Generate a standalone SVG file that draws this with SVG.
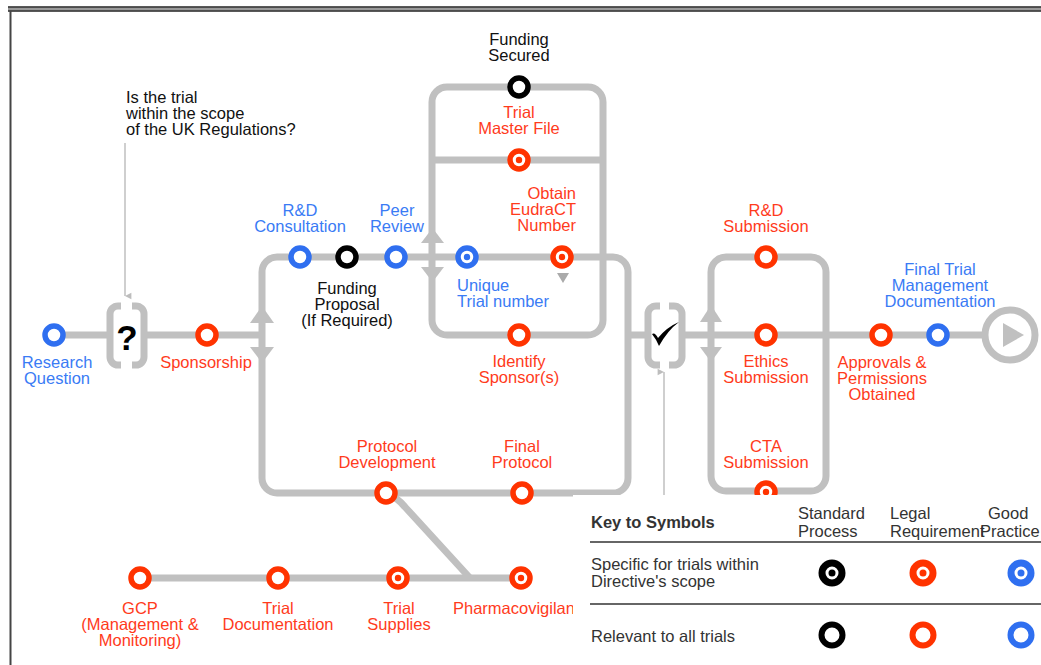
<svg xmlns="http://www.w3.org/2000/svg" width="1041" height="665" viewBox="0 0 1041 665">
<style>
.ln{fill:none;stroke:#c0c0c0;stroke-width:7;stroke-linejoin:round}
.ar{fill:#c0c0c0}
.thin{fill:none;stroke:#cfcfcf;stroke-width:2}
.t{font-family:"Liberation Sans",Arial,Helvetica,sans-serif;font-size:16.5px}
.m{text-anchor:middle}
.e{text-anchor:end}
.r{fill:#ff3b1c}
.b{fill:#3a7bf5}
.k{fill:#111}
.g{fill:#333}
.cr{fill:#fff;stroke:#ff3300;stroke-width:5.5}
.cb{fill:#fff;stroke:#2f6ff0;stroke-width:5.5}
.ck{fill:#fff;stroke:#000;stroke-width:5.5}
.dr{fill:#ff3300}
.db{fill:#2f6ff0}
.dk{fill:#000}
.kr1{fill:#fff;stroke-width:7}
.kr2{fill:#fff;stroke-width:6}
</style>
<defs>
<marker id="ah" viewBox="0 0 10 10" refX="5" refY="9" markerWidth="8" markerHeight="8" orient="auto-start-reverse" markerUnits="userSpaceOnUse">
<path d="M1,1 L9,1 L5,9 Z" fill="#bdbdbd"/>
</marker>
</defs>
<rect width="1041" height="665" fill="#fff"/>
<g id="frame">
<line x1="8" y1="9" x2="1041" y2="9" stroke="#999" stroke-width="3"/>
<line x1="8" y1="7" x2="1041" y2="7" stroke="#222" stroke-width="1.4"/>
<line x1="8" y1="11" x2="1041" y2="11" stroke="#222" stroke-width="1.4"/>
<line x1="10.5" y1="11" x2="10.5" y2="665" stroke="#444" stroke-width="2"/>
</g>
<g id="connectors">
<path class="ln" d="M277,257 H613 A15,15 0 0 1 628,272 V478 A15,15 0 0 1 613,493 H277 A15,15 0 0 1 262,478 V272 A15,15 0 0 1 277,257 Z"/>
<path class="ln" d="M447,87 H588 A15,15 0 0 1 603,102 V320 A15,15 0 0 1 588,335 H447 A15,15 0 0 1 432,320 V102 A15,15 0 0 1 447,87 Z"/>
<path class="ln" d="M432,160 H603"/>
<path class="ln" d="M726,257 H811 A15,15 0 0 1 826,272 V476 A15,15 0 0 1 811,491 H726 A15,15 0 0 1 711,476 V272 A15,15 0 0 1 726,257 Z"/>
<path class="ln" d="M54,335 H110 M144,335 H262 M628,335 H648 M682,335 H985"/>
<path class="ln" d="M140,578 H521"/>
<path class="ln" d="M386,493 Q398,498 405,507 L470,578"/>
<polygon class="ar" points="250,323 274,323 262,306"/>
<polygon class="ar" points="250,347 274,347 262,363"/>
<polygon class="ar" points="421,243 444,243 432.5,228"/>
<polygon class="ar" points="421,267 444,267 432.5,282"/>
<polygon class="ar" points="700,322 722,322 711,305"/>
<polygon class="ar" points="700,347 722,347 711,362"/>
<line class="thin" x1="125" y1="143" x2="125" y2="296" marker-end="url(#ah)"/>
<line class="thin" x1="664" y1="496" x2="664" y2="372" marker-end="url(#ah)"/>
</g>
<g id="research_question">
<circle class="cb" cx="54" cy="335" r="9"/>
<text class="t m b" x="57" y="368">Research</text>
<text class="t m b" x="57" y="384">Question</text>
</g>
<g id="scope_question">
<path class="ln" d="M121,306 H118 A8,8 0 0 0 110,314 V357 A8,8 0 0 0 118,365 H121 M132,306 H136 A8,8 0 0 1 144,314 V357 A8,8 0 0 1 136,365 H132"/>
<text x="127" y="350" text-anchor="middle" font-family="Liberation Sans,Arial,sans-serif" font-size="35" font-weight="bold" fill="#000">?</text>
</g>
<g id="scope_note">
<text class="t k" x="126" y="103">Is the trial</text>
<text class="t k" x="126" y="119">within the scope</text>
<text class="t k" x="126" y="135">of the UK Regulations?</text>
</g>
<g id="sponsorship">
<circle class="cr" cx="207" cy="335" r="9"/>
<text class="t m r" x="206" y="368">Sponsorship</text>
</g>
<g id="rd_consultation">
<circle class="cb" cx="300" cy="257" r="9"/>
<text class="t m b" x="300" y="216">R&amp;D</text>
<text class="t m b" x="300" y="232">Consultation</text>
</g>
<g id="funding_proposal">
<circle class="ck" cx="347" cy="257" r="9"/>
<text class="t m k" x="347" y="294">Funding</text>
<text class="t m k" x="347" y="310">Proposal</text>
<text class="t m k" x="347" y="326">(If Required)</text>
</g>
<g id="peer_review">
<circle class="cb" cx="396" cy="257" r="9"/>
<text class="t m b" x="397" y="216">Peer</text>
<text class="t m b" x="397" y="232">Review</text>
</g>
<g id="unique_trial_number">
<circle class="cb" cx="467" cy="257" r="9"/>
<circle class="db" cx="467" cy="257" r="3.2"/>
<text class="t b" x="457" y="291">Unique</text>
<text class="t b" x="457" y="307">Trial number</text>
</g>
<g id="obtain_eudract">
<circle class="cr" cx="562" cy="257" r="9"/>
<circle class="dr" cx="562" cy="257" r="3.2"/>
<polygon points="557,273 569,273 563,283" fill="#aaa"/>
<text class="t e r" x="576" y="199">Obtain</text>
<text class="t e r" x="576" y="215">EudraCT</text>
<text class="t e r" x="576" y="231">Number</text>
</g>
<g id="funding_secured">
<circle class="ck" cx="519" cy="87" r="9"/>
<text class="t m k" x="519" y="45">Funding</text>
<text class="t m k" x="519" y="61">Secured</text>
</g>
<g id="trial_master_file">
<circle class="cr" cx="519" cy="160" r="9"/>
<circle class="dr" cx="519" cy="160" r="3.2"/>
<text class="t m r" x="519" y="118">Trial</text>
<text class="t m r" x="519" y="134">Master File</text>
</g>
<g id="identify_sponsors">
<circle class="cr" cx="519" cy="335" r="9"/>
<text class="t m r" x="519" y="367">Identify</text>
<text class="t m r" x="519" y="383">Sponsor(s)</text>
</g>
<g id="protocol_development">
<circle class="cr" cx="386" cy="493" r="9"/>
<text class="t m r" x="387" y="452">Protocol</text>
<text class="t m r" x="387" y="468">Development</text>
</g>
<g id="final_protocol">
<circle class="cr" cx="522" cy="493" r="9"/>
<text class="t m r" x="522" y="452">Final</text>
<text class="t m r" x="522" y="468">Protocol</text>
</g>
<g id="gcp">
<circle class="cr" cx="140" cy="578" r="9"/>
<text class="t m r" x="140" y="614">GCP</text>
<text class="t m r" x="140" y="630">(Management &amp;</text>
<text class="t m r" x="140" y="646">Monitoring)</text>
</g>
<g id="trial_documentation">
<circle class="cr" cx="278" cy="578" r="9"/>
<text class="t m r" x="278" y="614">Trial</text>
<text class="t m r" x="278" y="630">Documentation</text>
</g>
<g id="trial_supplies">
<circle class="cr" cx="398" cy="578" r="9"/>
<circle class="dr" cx="398" cy="578" r="3.2"/>
<text class="t m r" x="399" y="614">Trial</text>
<text class="t m r" x="399" y="630">Supplies</text>
</g>
<g id="pharmacovigilance">
<circle class="cr" cx="521" cy="578" r="9"/>
<circle class="dr" cx="521" cy="578" r="3.2"/>
<text class="t r" x="453" y="614">Pharmacovigilance</text>
</g>
<g id="check_point">
<path class="ln" d="M660,306 H656 A8,8 0 0 0 648,314 V357 A8,8 0 0 0 656,365 H660 M669,306 H674 A8,8 0 0 1 682,314 V357 A8,8 0 0 1 674,365 H669"/>
<path d="M652,334 Q655,332 658,338 Q667,327 679,322 Q668,330 659,346 Q656,339 652,334 Z" fill="#000"/>
</g>
<g id="rd_submission">
<circle class="cr" cx="766" cy="257" r="9"/>
<text class="t m r" x="766" y="216">R&amp;D</text>
<text class="t m r" x="766" y="232">Submission</text>
</g>
<g id="ethics_submission">
<circle class="cr" cx="766" cy="335" r="9"/>
<text class="t m r" x="766" y="367">Ethics</text>
<text class="t m r" x="766" y="383">Submission</text>
</g>
<g id="cta_submission">
<circle class="cr" cx="766" cy="492" r="9"/>
<circle class="dr" cx="766" cy="492" r="3.2"/>
<text class="t m r" x="766" y="452">CTA</text>
<text class="t m r" x="766" y="468">Submission</text>
</g>
<g id="approvals">
<circle class="cr" cx="881" cy="335" r="9"/>
<text class="t m r" x="882" y="368">Approvals &amp;</text>
<text class="t m r" x="882" y="384">Permissions</text>
<text class="t m r" x="882" y="400">Obtained</text>
</g>
<g id="final_trial_management">
<circle class="cb" cx="938" cy="335" r="9"/>
<text class="t m b" x="940" y="275">Final Trial</text>
<text class="t m b" x="940" y="291">Management</text>
<text class="t m b" x="940" y="307">Documentation</text>
</g>
<g id="end">
<circle cx="1010" cy="335" r="25" fill="#fff" stroke="#c0c0c0" stroke-width="7"/>
<polygon class="ar" points="1003,323 1003,347 1024,335"/>
</g>
<g id="key">
<rect x="573" y="495" width="468" height="170" fill="#fff"/>
<text class="t g" x="591" y="528" font-weight="bold">Key to Symbols</text>
<text class="t g" x="798" y="519">Standard</text>
<text class="t g" x="798" y="537">Process</text>
<text class="t g" x="890" y="519">Legal</text>
<text class="t g" x="890" y="537">Requirement</text>
<text class="t g" x="988" y="519">Good</text>
<text class="t g" x="980" y="537">Practice</text>
<line x1="590" y1="542" x2="1041" y2="542" stroke="#333" stroke-width="1.5"/>
<text class="t g" x="591" y="570">Specific for trials within</text>
<text class="t g" x="591" y="587">Directive's scope</text>
<line x1="590" y1="604" x2="1041" y2="604" stroke="#333" stroke-width="1.5"/>
<text class="t g" x="591" y="642">Relevant to all trials</text>
<circle class="kr1" cx="832" cy="573" r="10" stroke="#000"/>
<circle class="dk" cx="832" cy="573" r="3.5"/>
<circle class="kr1" cx="923" cy="573" r="10" stroke="#ff3300"/>
<circle class="dr" cx="923" cy="573" r="3.5"/>
<circle class="kr1" cx="1021" cy="573" r="10" stroke="#2f6ff0"/>
<circle class="db" cx="1021" cy="573" r="3.5"/>
<circle class="kr2" cx="832" cy="635" r="10.5" stroke="#000"/>
<circle class="kr2" cx="923" cy="635" r="10.5" stroke="#ff3300"/>
<circle class="kr2" cx="1021" cy="635" r="10.5" stroke="#2f6ff0"/>
</g>
</svg>
